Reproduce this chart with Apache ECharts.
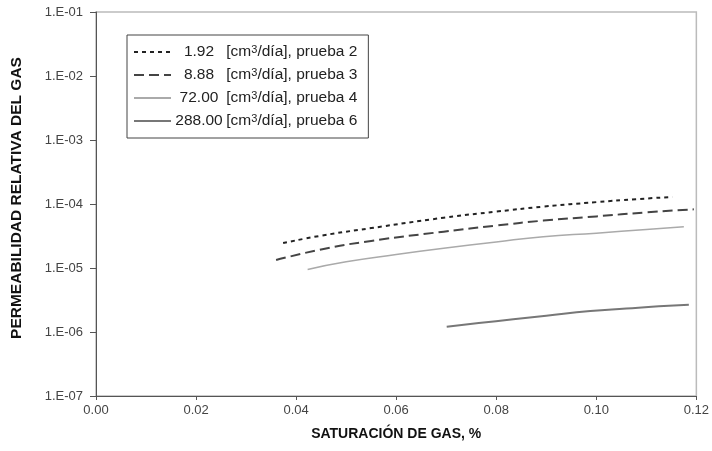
<!DOCTYPE html>
<html>
<head>
<meta charset="utf-8">
<script src="https://cdn.jsdelivr.net/npm/echarts@6/dist/echarts.min.js"></script>
<style>
  html, body { margin: 0; padding: 0; background: #fff; }
  #chart { width: 712px; height: 451px; }
</style>
</head>
<body>
<div id="chart"></div>
<script>
// Gas relative permeability vs. gas saturation, one curve per injection rate
const seriesNames = [
  '1.92 [cm³/día], prueba 2',
  '8.88 [cm³/día], prueba 3',
  '72.00 [cm³/día], prueba 4',
  '288.00 [cm³/día], prueba 6'
];
const rateLabels = ['1.92', '8.88', '72.00', '288.00'];
const testLabels = ['prueba 2', 'prueba 3', 'prueba 4', 'prueba 6'];

// [saturation, relative permeability]
const prueba2 = [
  [0.0374, 2.45e-5], [0.045, 3.2e-5], [0.055, 4.2e-5], [0.0695, 6.1e-5],
  [0.080, 7.6e-5], [0.0894, 9.1e-5], [0.100, 1.07e-4], [0.108, 1.19e-4], [0.1152, 1.29e-4]
];
const prueba3 = [
  [0.0360, 1.33e-5], [0.045, 1.95e-5], [0.055, 2.65e-5], [0.0695, 3.7e-5],
  [0.080, 4.6e-5], [0.0894, 5.5e-5], [0.100, 6.4e-5], [0.110, 7.4e-5], [0.1195, 8.26e-5]
];
const prueba4 = [
  [0.0423, 9.5e-6], [0.050, 1.25e-5], [0.060, 1.62e-5], [0.0695, 2.03e-5],
  [0.080, 2.55e-5], [0.0894, 3.08e-5], [0.100, 3.5e-5], [0.110, 4.0e-5], [0.1175, 4.42e-5]
];
const prueba6 = [
  [0.0701, 1.21e-6], [0.0765, 1.38e-6], [0.0834, 1.58e-6], [0.090, 1.8e-6],
  [0.0988, 2.13e-6], [0.106, 2.33e-6], [0.1125, 2.52e-6], [0.1185, 2.67e-6]
];

const chart = echarts.init(document.getElementById('chart'), null, { renderer: 'canvas' });

const styles = [
  { color: '#222', width: 2, type: [4, 4] },
  { color: '#444', width: 2, type: [10, 5] },
  { color: '#aaa', width: 1.5, type: 'solid' },
  { color: '#777', width: 2, type: 'solid' }
];
const datasets = [prueba2, prueba3, prueba4, prueba6];

chart.setOption({
  animation: false,
  backgroundColor: '#fff',
  textStyle: { fontFamily: 'Liberation Sans, Arial, sans-serif' },
  grid: {
    left: 96, right: 15, top: 12, bottom: 55,
    show: true, borderColor: '#bbb', borderWidth: 1.5
  },
  legend: {
    orient: 'vertical',
    left: 127, top: 35,
    padding: [9, 11, 9, 6],
    itemWidth: 37, itemHeight: 14, itemGap: 7,
    borderColor: '#444', borderWidth: 1,
    backgroundColor: '#fff',
    itemStyle: { opacity: 0 },
    data: seriesNames,
    formatter: function (name) {
      const i = seriesNames.indexOf(name);
      return '{n|' + rateLabels[i] + '} [cm{s|3}/día], ' + testLabels[i];
    },
    textStyle: {
      fontSize: 15.5, color: '#222', lineHeight: 16,
      rich: {
        n: { fontSize: 15.5, color: '#222', width: 46, align: 'right', lineHeight: 16 },
        s: { fontSize: 11, color: '#222', lineHeight: 16, verticalAlign: 'top' }
      }
    }
  },
  xAxis: {
    type: 'value',
    min: 0, max: 0.12, interval: 0.02,
    name: 'SATURACIÓN DE GAS, %',
    nameLocation: 'middle', nameGap: 31,
    nameTextStyle: { fontSize: 14, fontWeight: 'bold', color: '#111' },
    axisLine: { lineStyle: { color: '#555', width: 1 } },
    axisTick: { show: true, length: 4, lineStyle: { color: '#555' } },
    axisLabel: { fontSize: 13, color: '#444', margin: 8, formatter: v => v.toFixed(2) },
    splitLine: { show: false }
  },
  yAxis: {
    type: 'log', logBase: 10,
    min: 1e-7, max: 1e-1,
    name: 'PERMEABILIDAD RELATIVA DEL GAS',
    nameLocation: 'middle', nameGap: 71, nameRotate: 90,
    nameTextStyle: { fontSize: 15.5, fontWeight: 'bold', color: '#111', padding: [0, 0, 0, 12] },
    axisLine: { show: true, lineStyle: { color: '#555', width: 1 } },
    axisTick: { show: true, length: 6, lineStyle: { color: '#555' } },
    axisLabel: {
      fontSize: 13, color: '#444', margin: 13,
      formatter: function (v) {
        const e = Math.round(Math.log10(v));
        const s = Math.abs(e) < 10 ? '0' + Math.abs(e) : '' + Math.abs(e);
        return '1.E' + (e < 0 ? '-' : '+') + s;
      }
    },
    splitLine: { show: false }
  },
  series: datasets.map((d, i) => ({
    name: seriesNames[i],
    type: 'line',
    data: d,
    showSymbol: false,
    symbol: 'none',
    smooth: true,
    itemStyle: { color: styles[i].color },
    lineStyle: { color: styles[i].color, width: styles[i].width, type: styles[i].type }
  }))
});
</script>
</body>
</html>
